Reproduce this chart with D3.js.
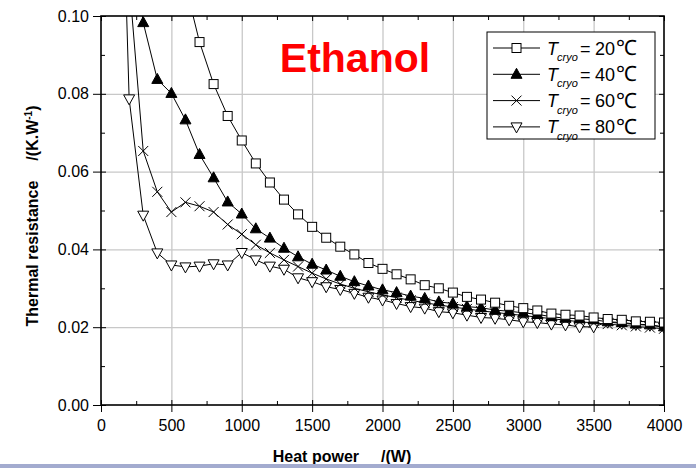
<!DOCTYPE html>
<html>
<head>
<meta charset="utf-8">
<script src="https://cdn.jsdelivr.net/npm/d3@7/dist/d3.min.js"></script>
<style>
  html, body { margin: 0; padding: 0; background: #fff; }
  svg { display: block; font-family: "Liberation Sans", Arial, sans-serif; }
</style>
</head>
<body>
<svg id="chart" width="696" height="468"></svg>
<script>
(function () {
  'use strict';

  // heat power (W), one sample every 100 W
  var power = [100, 200, 300, 400, 500, 600, 700, 800, 900, 1000,
    1100, 1200, 1300, 1400, 1500, 1600, 1700, 1800, 1900, 2000,
    2100, 2200, 2300, 2400, 2500, 2600, 2700, 2800, 2900, 3000,
    3100, 3200, 3300, 3400, 3500, 3600, 3700, 3800, 3900, 4000];

  // thermal resistance (K/W), null where no measurement
  var r20 = [null, null, null, null, null, 0.108, 0.0933, 0.0825, 0.0743, 0.0680,
    0.0621, 0.0572, 0.0528, 0.0490, 0.0458, 0.0430, 0.0407, 0.0387, 0.0365, 0.0350,
    0.0336, 0.0323, 0.0308, 0.0300, 0.0289, 0.0278, 0.0271, 0.0263, 0.0255, 0.0249,
    0.0243, 0.0235, 0.0232, 0.0230, 0.0225, 0.0221, 0.0219, 0.0215, 0.0214, 0.0212];
  var r40 = [null, 0.125, 0.0983, 0.0837, 0.0801, 0.0733, 0.0644, 0.0584, 0.0522, 0.0491,
    0.0453, 0.0429, 0.0403, 0.0381, 0.0362, 0.0347, 0.0331, 0.0317, 0.0306, 0.0296,
    0.0289, 0.0280, 0.0274, 0.0265, 0.0261, 0.0253, 0.0250, 0.0244, 0.0241, 0.0237,
    0.0233, 0.0227, 0.0223, 0.0222, 0.0219, 0.0214, 0.0212, 0.0208, 0.0206, 0.0201];
  var r60 = [null, 0.109, 0.0653, 0.0548, 0.0496, 0.0521, 0.0511, 0.0496, 0.0464, 0.0439,
    0.0412, 0.0391, 0.0373, 0.0356, 0.0339, 0.0324, 0.0311, 0.0300, 0.0291, 0.0283,
    0.0276, 0.0269, 0.0263, 0.0257, 0.0252, 0.0247, 0.0242, 0.0238, 0.0234, 0.0230,
    0.0226, 0.0222, 0.0218, 0.0214, 0.0211, 0.0208, 0.0205, 0.0202, 0.0199, 0.0196];
  var r80 = [0.200, 0.0787, 0.0488, 0.0391, 0.0360, 0.0355, 0.0357, 0.0363, 0.0360, 0.0392,
    0.0373, 0.0357, 0.0349, 0.0327, 0.0317, 0.0304, 0.0297, 0.0287, 0.0277, 0.0270,
    0.0261, 0.0253, 0.0249, 0.0240, 0.0237, 0.0231, 0.0225, 0.0223, 0.0219, 0.0214,
    0.0212, 0.0208, 0.0206, 0.0201, 0.0201, 0.0213, 0.0210, 0.0207, 0.0205, 0.0200];

  var seriesTemps = ['20', '40', '60', '80'];
  var seriesMarks = ['square', 'triangleUp', 'cross', 'triangleDown'];
  var xTicks = [0, 500, 1000, 1500, 2000, 2500, 3000, 3500, 4000];
  var yTicks = [0, 0.02, 0.04, 0.06, 0.08, 0.10];

  var series = [r20, r40, r60, r80].map(function (vals, i) {
    return {
      temp: seriesTemps[i],
      mark: seriesMarks[i],
      points: power.map(function (p, j) { return { x: p, y: vals[j] }; })
        .filter(function (d) { return d.y !== null; })
    };
  });

  var L = 101, R = 664, T = 16, B = 405;
  var W = R - L, H = B - T;

  var svg = d3.select('#chart');
  var x = d3.scaleLinear().domain([0, 4000]).range([L, R]);
  var y = d3.scaleLinear().domain([0, 0.10]).range([B, T]);

  svg.append('defs').append('clipPath').attr('id', 'plot-clip')
    .append('rect').attr('x', L).attr('y', T).attr('width', W).attr('height', H);

  // ── Grid ──────────────────────────────────────────────────────────────────
  var grid = svg.append('g').attr('class', 'grid');
  grid.append('g').attr('transform', 'translate(0,' + B + ')')
    .call(d3.axisBottom(x).tickValues(xTicks.slice(1, -1)).tickSize(-H).tickFormat(''));
  grid.append('g').attr('transform', 'translate(' + L + ',0)')
    .call(d3.axisLeft(y).tickValues(yTicks.slice(1, -1)).tickSize(-W).tickFormat(''));
  grid.selectAll('.domain').remove();
  grid.selectAll('line').attr('stroke', '#c8c8c8').attr('stroke-width', 1.3);

  // ── Series ────────────────────────────────────────────────────────────────
  var line = d3.line().x(function (d) { return x(d.x); }).y(function (d) { return y(d.y); });
  var plot = svg.append('g').attr('clip-path', 'url(#plot-clip)');

  function drawMarker(g, kind, cx, cy) {
    if (kind === 'square') {
      g.append('rect').attr('x', cx - 4.5).attr('y', cy - 4.5).attr('width', 9).attr('height', 9)
        .attr('fill', '#fff').attr('stroke', '#000').attr('stroke-width', 1);
    } else if (kind === 'triangleUp') {
      g.append('path').attr('d', 'M' + cx + ',' + (cy - 6) + 'L' + (cx + 5.5) + ',' + (cy + 4) +
        'L' + (cx - 5.5) + ',' + (cy + 4) + 'Z').attr('fill', '#000').attr('stroke', '#000');
    } else if (kind === 'cross') {
      g.append('path').attr('d', 'M' + (cx - 5) + ',' + (cy - 5) + 'L' + (cx + 5) + ',' + (cy + 5) +
        'M' + (cx + 5) + ',' + (cy - 5) + 'L' + (cx - 5) + ',' + (cy + 5))
        .attr('fill', 'none').attr('stroke', '#000').attr('stroke-width', 1);
    } else {
      g.append('path').attr('d', 'M' + cx + ',' + (cy + 6) + 'L' + (cx + 5.5) + ',' + (cy - 4) +
        'L' + (cx - 5.5) + ',' + (cy - 4) + 'Z').attr('fill', '#fff').attr('stroke', '#000');
    }
  }

  // later temperatures underneath, as in the source plot
  series.slice().reverse().forEach(function (s) {
    var g = plot.append('g');
    g.append('path').datum(s.points).attr('d', line)
      .attr('fill', 'none').attr('stroke', '#000').attr('stroke-width', 1);
    s.points.forEach(function (d) { drawMarker(g, s.mark, x(d.x), y(d.y)); });
  });

  // ── Axes ──────────────────────────────────────────────────────────────────
  function styleAxis(g) {
    g.select('.domain').remove();
    g.selectAll('line').attr('stroke', '#000').attr('stroke-width', 1);
    g.selectAll('text').attr('fill', '#000').style('font-size', '16px');
  }
  var xMinor = [250, 750, 1250, 1750, 2250, 2750, 3250, 3750];
  var yMinor = [0.01, 0.03, 0.05, 0.07, 0.09];

  svg.append('g').attr('transform', 'translate(0,' + B + ')')
    .call(d3.axisBottom(x).tickValues(xTicks).tickSize(7).tickPadding(8).tickFormat(d3.format('d')))
    .call(styleAxis);
  svg.append('g').attr('transform', 'translate(' + L + ',0)')
    .call(d3.axisLeft(y).tickValues(yTicks).tickSize(8).tickPadding(4).tickFormat(d3.format('.2f')))
    .call(styleAxis);

  // inner ticks on all four sides
  [[d3.axisTop(x), B, xTicks, 5], [d3.axisTop(x), B, xMinor, 4],
   [d3.axisBottom(x), T, xTicks, 5], [d3.axisBottom(x), T, xMinor, 4]].forEach(function (a) {
    svg.append('g').attr('transform', 'translate(0,' + a[1] + ')')
      .call(a[0].tickValues(a[2]).tickSize(a[3]).tickFormat('')).call(styleAxis);
  });
  [[d3.axisRight(y), L, yTicks, 5], [d3.axisRight(y), L, yMinor, 4],
   [d3.axisLeft(y), R, yTicks, 5], [d3.axisLeft(y), R, yMinor, 4]].forEach(function (a) {
    svg.append('g').attr('transform', 'translate(' + a[1] + ',0)')
      .call(a[0].tickValues(a[2]).tickSize(a[3]).tickFormat('')).call(styleAxis);
  });

  svg.append('rect').attr('x', L).attr('y', T).attr('width', W).attr('height', H)
    .attr('fill', 'none').attr('stroke', '#000').attr('stroke-width', 1.6);

  // ── Title and labels ──────────────────────────────────────────────────────
  svg.append('text').attr('x', 355).attr('y', 72).attr('text-anchor', 'middle')
    .attr('fill', '#ff0000').style('font-size', '41px').style('font-weight', 'bold')
    .text('Ethanol');

  var xl = svg.append('text').attr('x', 342).attr('y', 462).attr('text-anchor', 'middle')
    .style('font-size', '16px').style('font-weight', 'bold');
  xl.append('tspan').text('Heat power');
  xl.append('tspan').attr('dx', 22).text('/(W)');

  var yl = svg.append('text').attr('transform', 'translate(38,216) rotate(-90)')
    .attr('text-anchor', 'middle').style('font-size', '16px').style('font-weight', 'bold');
  yl.append('tspan').text('Thermal resistance');
  yl.append('tspan').attr('dx', 20).text('/(K.W');
  yl.append('tspan').attr('dy', -6).style('font-size', '10px').text('-1');
  yl.append('tspan').attr('dy', 6).text(')');

  // ── Legend ────────────────────────────────────────────────────────────────
  var leg = svg.append('g');
  leg.append('rect').attr('x', 487).attr('y', 32).attr('width', 168).attr('height', 107)
    .attr('fill', '#fff').attr('stroke', '#000').attr('stroke-width', 1);
  series.forEach(function (s, i) {
    var cy = 48 + i * 26.3;
    var g = leg.append('g').style('font-size', '18px');
    g.append('line').attr('x1', 493).attr('x2', 540).attr('y1', cy).attr('y2', cy)
      .attr('stroke', '#000').attr('stroke-width', 1);
    drawMarker(g, s.mark, 516.5, cy);
    g.append('text').attr('x', 547).attr('y', cy + 6.5).style('font-style', 'italic').text('T');
    g.append('text').attr('x', 557).attr('y', cy + 13).style('font-style', 'italic')
      .style('font-size', '11px').text('cryo');
    g.append('text').attr('x', 580).attr('y', cy + 6.5).text('=');
    g.append('text').attr('x', 595).attr('y', cy + 6.5).text(s.temp);
    g.append('text').attr('x', 616).attr('y', cy + 7).style('font-size', '21px').text('\u2103');
  });

  // bottom strip of the source image
  svg.append('rect').attr('x', 0).attr('y', 464).attr('width', 696).attr('height', 4)
    .attr('fill', '#a3abcf');
})();
</script>
</body>
</html>
